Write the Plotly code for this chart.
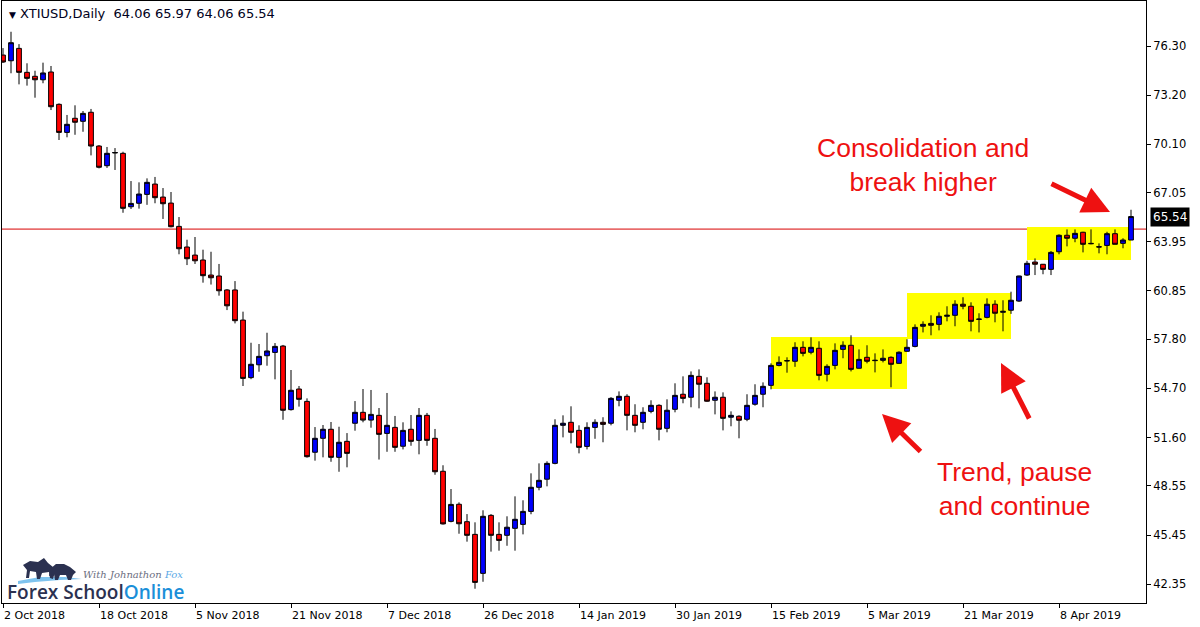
import pandas as pd
import plotly.graph_objects as go

# ---------------- data ----------------
start_date = "2018-10-02"
end_date = "2019-04-22"
holidays = ["2018-12-25", "2019-01-01", "2019-04-19"]

opens = [75.73, 75.37, 76.15, 74.64, 74.39, 74.17, 74.66, 72.62, 70.85, 71.74,
         71.55, 72.12, 69.99, 68.75, 69.55, 69.53, 66.16, 66.38, 66.94, 67.59,
         66.77, 66.39, 64.92, 63.62, 63.11, 62.80, 61.85, 61.79, 60.91, 60.91,
         59.01, 55.38, 56.19, 56.76, 56.97, 57.37, 53.36, 54.66, 53.88, 50.67,
         51.55, 52.12, 50.35, 51.36, 52.50, 53.19, 52.70, 53.00, 51.86, 52.24,
         51.05, 52.12, 51.42, 53.00, 51.55, 49.47, 46.31, 47.39, 46.29, 45.49,
         43.03, 46.69, 45.49, 45.43, 45.87, 46.12, 46.94, 48.46, 48.97, 49.97,
         52.37, 52.56, 52.05, 51.04, 52.24, 52.56, 52.50, 53.95, 54.20, 53.00,
         52.56, 53.25, 53.63, 52.18, 53.38, 54.33, 54.14, 55.46, 55.02, 53.95,
         54.14, 52.88, 52.94, 52.75, 53.70, 54.33, 54.89, 56.15, 56.43, 56.41,
         57.29, 56.98, 57.23, 55.59, 56.15, 57.16, 57.42, 55.97, 56.66, 56.45,
         56.47, 56.66, 56.28, 57.04, 57.35, 58.62, 58.80, 58.74, 59.25, 59.31,
         60.01, 59.88, 59.05, 59.18, 60.01, 59.50, 59.63, 60.21, 61.85, 62.67,
         62.53, 62.21, 63.32, 64.36, 64.17, 64.55, 63.85, 63.64, 63.72, 64.46,
         63.85, 64.06]
highs = [76.17, 77.20, 76.42, 75.21, 74.74, 75.25, 75.04, 72.68, 71.95, 72.56,
         72.20, 72.33, 70.05, 69.93, 69.86, 69.63, 67.78, 67.70, 67.95, 68.04,
         67.34, 67.09, 65.51, 64.08, 64.25, 63.45, 63.32, 62.55, 60.97, 61.47,
         59.54, 57.58, 57.50, 58.21, 57.56, 57.44, 55.86, 54.85, 54.07, 52.26,
         52.39, 52.58, 52.28, 51.88, 53.90, 54.66, 54.60, 53.46, 54.41, 52.96,
         52.56, 53.02, 53.46, 53.15, 52.14, 49.85, 48.35, 47.51, 46.77, 46.25,
         47.01, 46.77, 46.25, 46.63, 47.89, 47.64, 49.34, 49.97, 50.10, 52.75,
         53.00, 53.57, 52.37, 52.56, 52.75, 52.88, 54.15, 54.51, 54.33, 53.70,
         53.51, 53.95, 53.70, 54.01, 55.02, 55.46, 55.77, 55.90, 55.40, 54.51,
         54.45, 53.25, 53.00, 54.33, 54.96, 55.08, 56.28, 56.72, 56.66, 57.61,
         57.67, 57.92, 57.67, 56.22, 57.54, 57.67, 58.05, 57.16, 57.42, 56.91,
         57.16, 56.72, 57.04, 57.80, 58.74, 58.93, 59.31, 59.50, 59.88, 60.26,
         60.45, 60.13, 59.44, 60.38, 60.26, 60.26, 60.80, 61.81, 62.75, 62.90,
         62.55, 63.37, 64.42, 64.73, 64.73, 64.58, 64.73, 63.85, 64.58, 64.73,
         64.17, 65.97]
lows = [75.23, 74.58, 73.88, 73.80, 73.04, 73.95, 72.26, 70.37, 70.54, 70.70,
        70.89, 69.40, 68.58, 68.61, 68.48, 65.78, 66.02, 66.04, 66.28, 66.38,
        65.39, 64.86, 63.16, 62.48, 62.55, 61.37, 61.25, 60.55, 59.64, 58.80,
        54.85, 55.28, 55.75, 56.13, 55.27, 52.72, 53.30, 53.55, 50.33, 50.14,
        50.35, 50.07, 49.44, 49.72, 52.03, 52.56, 52.22, 50.21, 50.70, 50.70,
        50.85, 51.08, 50.54, 51.08, 49.25, 46.11, 46.25, 45.53, 45.03, 42.06,
        42.50, 44.40, 44.46, 44.77, 44.46, 45.49, 46.76, 48.27, 48.52, 49.91,
        51.61, 51.23, 50.60, 50.85, 51.52, 51.30, 52.37, 53.57, 52.05, 51.93,
        52.12, 53.13, 51.42, 51.93, 53.19, 53.76, 53.51, 53.44, 53.85, 53.06,
        52.05, 52.31, 51.55, 52.63, 53.61, 53.51, 54.64, 56.09, 55.69, 56.06,
        56.72, 56.85, 55.21, 55.14, 55.90, 56.60, 55.77, 55.95, 56.28, 55.71,
        56.34, 54.77, 56.26, 57.02, 57.29, 58.23, 58.05, 58.36, 58.93, 58.62,
        59.69, 58.30, 58.23, 59.12, 58.87, 58.30, 59.40, 60.15, 61.79, 61.85,
        61.90, 61.85, 63.16, 63.66, 63.92, 63.28, 63.79, 63.22, 63.16, 63.79,
        63.54, 64.06]
closes = [75.29, 76.51, 74.64, 74.26, 74.17, 74.60, 72.47, 70.85, 71.36, 71.49,
          72.05, 69.99, 68.65, 69.53, 69.58, 66.06, 66.37, 66.96, 67.70, 66.73,
          66.35, 64.90, 63.51, 62.88, 62.75, 61.81, 61.68, 60.86, 59.91, 58.97,
          55.33, 56.22, 56.72, 57.06, 57.35, 53.32, 54.58, 54.01, 50.39, 51.55,
          52.12, 50.35, 51.30, 50.60, 53.19, 52.70, 53.06, 51.80, 52.37, 50.98,
          52.05, 51.36, 53.00, 51.42, 49.44, 46.15, 47.38, 46.16, 45.43, 42.46,
          46.63, 45.43, 45.11, 45.94, 46.44, 46.94, 48.46, 48.90, 49.97, 52.37,
          52.50, 51.93, 50.98, 52.24, 52.56, 52.43, 54.07, 54.20, 53.00, 52.37,
          53.19, 53.63, 52.12, 53.32, 54.26, 54.07, 55.52, 54.96, 53.89, 54.14,
          52.81, 53.00, 52.69, 53.63, 54.26, 54.83, 56.15, 56.34, 56.45, 57.29,
          56.91, 57.29, 55.52, 56.09, 57.10, 57.42, 55.90, 56.53, 56.41, 56.47,
          56.60, 56.22, 56.98, 57.29, 58.55, 58.74, 58.68, 59.25, 59.31, 60.01,
          59.88, 58.93, 59.07, 60.01, 59.44, 59.56, 60.26, 61.79, 62.59, 62.53,
          62.21, 63.28, 64.36, 64.17, 64.48, 63.79, 63.83, 63.62, 64.46, 63.79,
          64.06, 65.54]

price_ticks = [76.30, 73.20, 70.10, 67.05, 63.95, 60.85, 57.80, 54.70, 51.60,
               48.55, 45.45, 42.35]
hline_level = 64.75

# highlight zones: (first bar index, last bar index) and (low price, high price)
zone_bars = [(96, 113), (113, 126), (128, 141)]
zone_prices = [(54.66, 57.94), (57.81, 60.72), (62.80, 64.88)]

symbol = "XTIUSD,Daily"
note_top = "Consolidation and<br>break higher"
note_bottom = "Trend, pause<br>and continue"

# ---------------- derived ----------------
dates = [d for d in pd.bdate_range(start_date, end_date)
         if d.strftime("%Y-%m-%d") not in holidays]
xcat = [d.strftime("%Y-%m-%d") for d in dates]
tick_vals = xcat[::12]
tick_text = [f"{d.day} {d.strftime('%b %Y')}" for d in dates[::12]]

W, H = 1200, 627
ML, MR, MT, MB = 2, 54, 1, 24


def px(x):
    return (x - ML) / (W - ML - MR)


def py(y):
    return (H - MB - y) / (H - MT - MB)


fig = go.Figure()
fig.add_trace(go.Candlestick(
    x=xcat, open=opens, high=highs, low=lows, close=closes,
    increasing=dict(fillcolor="#0000ff", line=dict(color="black", width=1)),
    decreasing=dict(fillcolor="#ff0000", line=dict(color="black", width=1)),
    whiskerwidth=0, showlegend=False, hoverinfo="skip",
))

shapes = []
for (b0, b1), (p0, p1) in zip(zone_bars, zone_prices):
    shapes.append(dict(type="rect", xref="x", yref="y", x0=b0, x1=b1, y0=p0, y1=p1,
                       fillcolor="#ffff00", line=dict(width=0), layer="below"))
shapes.append(dict(type="line", xref="paper", yref="y", x0=0, x1=1,
                   y0=hline_level, y1=hline_level,
                   line=dict(color="#d80000", width=1), layer="below"))


def ppath(points):
    return "M " + " L ".join(f"{px(a):.5f},{py(b):.5f}" for a, b in points) + " Z"


# logo artwork: swoosh and bull/bear silhouettes (paper coords)
shapes.append(dict(type="path", xref="paper", yref="paper",
                   path=ppath([(18, 581), (40, 577), (65, 577), (82, 579), (60, 580), (35, 582), (18, 584)]),
                   fillcolor="#7ec3ee", line=dict(width=0)))
shapes.append(dict(type="path", xref="paper", yref="paper",
                   path=ppath([(23, 565), (30, 561), (38, 562), (44, 558), (48, 563), (53, 567),
                               (55, 572), (53, 579), (50, 578), (49, 572), (42, 573), (40, 579),
                               (37, 579), (36, 572), (30, 571), (29, 578), (26, 578), (27, 570)]),
                   fillcolor="#2b3150", line=dict(width=0)))
shapes.append(dict(type="path", xref="paper", yref="paper",
                   path=ppath([(50, 569), (56, 564), (64, 564), (70, 567), (76, 572), (73, 575),
                               (71, 580), (68, 580), (66, 575), (60, 575), (58, 580), (55, 580),
                               (54, 574), (49, 576)]),
                   fillcolor="#2b3150", line=dict(width=0)))

annotations = []
# header
annotations.append(dict(xref="paper", yref="paper", x=px(7), y=py(14), xanchor="left",
                        yanchor="middle", showarrow=False,
                        text=f"<span style='font-size:9px'>▼</span> {symbol}  "
                             f"{opens[-1]:.2f} {highs[-1]:.2f} {lows[-1]:.2f} {closes[-1]:.2f}",
                        font=dict(family="DejaVu Sans", size=13, color="#000020")))
# last price label
annotations.append(dict(xref="paper", yref="y", x=1, y=closes[-1], xanchor="left",
                        yanchor="middle", xshift=4, showarrow=False,
                        text=f"{closes[-1]:.2f}", bgcolor="black", borderpad=2,
                        font=dict(family="DejaVu Sans", size=12, color="white")))
# texts
red = "#ee1111"
annotations.append(dict(xref="paper", yref="paper", x=px(923), y=py(165),
                        xanchor="center", yanchor="middle",
                        showarrow=False, text=note_top, align="center",
                        font=dict(family="Liberation Sans", size=26.5, color=red)))
annotations.append(dict(xref="paper", yref="paper", x=px(1014), y=py(489),
                        xanchor="center", yanchor="middle",
                        showarrow=False, text=note_bottom, align="center",
                        font=dict(family="Liberation Sans", size=26.5, color=red)))
# arrows (tip, tail) in pixels
for (tx, ty), (sx, sy) in [((1110, 212), (1050, 183)),
                           ((882, 414), (922, 453)),
                           ((1001, 363), (1030, 420))]:
    annotations.append(dict(xref="paper", yref="paper", x=px(tx), y=py(ty),
                            axref="pixel", ayref="pixel", ax=sx - tx, ay=sy - ty,
                            showarrow=True, arrowhead=2, arrowsize=1.1,
                            arrowwidth=5, arrowcolor=red, text=""))
# logo text
annotations.append(dict(xref="paper", yref="paper", x=px(5), y=py(592), xanchor="left",
                        yanchor="middle", showarrow=False,
                        text="<span style='color:#2b3150'>Forex School</span>"
                             "<span style='color:#1b8fd9'>Online</span>",
                        font=dict(family="Open Sans", size=19, weight=600)))
annotations.append(dict(xref="paper", yref="paper", x=px(81), y=py(574), xanchor="left",
                        yanchor="middle", showarrow=False,
                        text="<span style='color:#6b6e80'>With Johnathon </span>"
                             "<span style='color:#5aa9e6'>Fox</span>",
                        font=dict(family="DejaVu Serif", size=10, style="italic")))

fig.update_layout(
    width=W, height=H,
    margin=dict(l=ML, r=MR, t=MT, b=MB, autoexpand=False),
    paper_bgcolor="white", plot_bgcolor="white",
    shapes=shapes, annotations=annotations,
    showlegend=False, boxgroupgap=0.15,
    xaxis=dict(type="category", range=[-0.125, 142.875], rangeslider=dict(visible=False),
               tickmode="array", tickvals=tick_vals, ticktext=tick_text,
               ticks="outside", ticklen=4, tickcolor="black", showgrid=False,
               showline=True, linecolor="black", linewidth=1, mirror=True,
               ticklabelposition="outside right", automargin=False,
               ticklabelstandoff=2,
               tickfont=dict(family="DejaVu Sans", size=11, color="black")),
    yaxis=dict(side="right", range=[41.16, 79.14], tickmode="array",
               tickvals=price_ticks, ticktext=[f"{v:.2f}" for v in price_ticks],
               ticks="outside", ticklen=4, tickcolor="black", showgrid=False,
               showline=True, linecolor="black", linewidth=1, mirror=True,
               zeroline=False, automargin=False,
               tickfont=dict(family="DejaVu Sans", size=11.5, color="black")),
)

fig.write_html("out.html", config={"displayModeBar": False})

# remove the default page margin so the figure starts at the window's corner
with open("out.html", encoding="utf-8") as f:
    page = f.read()
page = page.replace("<body>", '<body style="margin:0;padding:0;overflow:hidden">', 1)
with open("out.html", "w", encoding="utf-8") as f:
    f.write(page)
